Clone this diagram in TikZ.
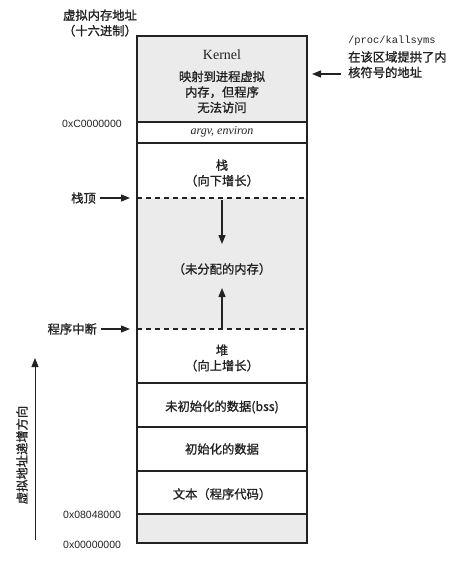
\documentclass[tikz,border=0pt]{standalone}
\usepackage{fontspec}
\setmainfont{Liberation Serif}
\newfontfamily\cjk{Noto Sans CJK SC}[FakeBold=1.2]
\newfontfamily\hexf{Liberation Sans}
\newfontfamily\monof{Liberation Mono}
\usetikzlibrary{arrows.meta}
\definecolor{memgray}{HTML}{EBEBEB}
\definecolor{ink}{HTML}{222222}
\begin{document}
\begin{tikzpicture}[x=1pt,y=-1pt,
  txt/.style={font=\cjk\fontsize{12.3}{15.5}\selectfont, text=ink, align=center, inner sep=0pt},
  hex/.style={font=\hexf\fontsize{10.5}{12}\selectfont, text=ink, inner sep=0pt},
  seg/.style={draw=ink, line width=1.3pt},
  arr/.style={-{Triangle[length=9pt,width=7pt]}, draw=ink, line width=1.3pt}]
\useasboundingbox (0,0) rectangle (455,562);
% shaded regions
\fill[memgray] (137,36) rectangle (307,122);
\fill[memgray] (137,198) rectangle (307,329);
\fill[memgray] (137,514) rectangle (307,543);
% outline and separators
\draw[seg] (137,36) rectangle (307,543);
\draw[seg] (137,122) -- (307,122);
\draw[seg] (137,143) -- (307,143);
\draw[seg,dash pattern=on 5pt off 4pt] (137,198) -- (307,198);
\draw[seg,dash pattern=on 5pt off 4pt] (137,329) -- (307,329);
\draw[seg] (137,383) -- (307,383);
\draw[seg] (137,427) -- (307,427);
\draw[seg] (137,471) -- (307,471);
\draw[seg] (137,514) -- (307,514);
% labels inside
\node[font=\fontsize{14}{16}\selectfont, text=ink] (kern) at (222,55) {Kernel};
\node[txt] (kmap) at (222,92) {映射到进程虚拟\\内存，但程序\\无法访问};
\node[font=\itshape\fontsize{12}{14}\selectfont, text=ink] (argv) at (222,132) {argv, environ};
\node[txt] (stack) at (222,173) {栈\\（向下增长）};
\node[txt] (unalloc) at (222,269) {（未分配的内存）};
\node[txt] (heap) at (222,358) {堆\\（向上增长）};
\node[txt] (bss) at (222,407) {未初始化的数据(bss)};
\node[txt] (data) at (222,449) {初始化的数据};
\node[txt] (text) at (222,494) {文本（程序代码）};
\coordinate (sd0) at (222,200);
\coordinate (sd1) at (222,244);
\coordinate (hu0) at (222,328);
\coordinate (hu1) at (222,288);
\draw[arr] (sd0) -- (sd1);
\draw[arr] (hu0) -- (hu1);
% left labels
\node[txt] (vaddr) at (100,23) {虚拟内存地址\\（十六进制）};
\node[hex, anchor=west] (hc) at (62,124) {0xC0000000};
\node[hex, anchor=west] (h8) at (63,515) {0x08048000};
\node[hex, anchor=west] (h0) at (63,545) {0x00000000};
\node[txt, anchor=east] (stop) at (96,198) {栈顶};
\node[txt, anchor=east] (brk) at (97,329) {程序中断};
\coordinate (stopE) at (130,198);
\coordinate (brkE) at (130,329);
\draw[arr] (stop.east) ++(4,0) -- (stopE);
\draw[arr] (brk.east) ++(4,0) -- (brkE);
% right label
\node[font=\monof\fontsize{10.4}{12}\selectfont, text=ink, anchor=west, inner sep=0pt] (proc) at (348,41) {/proc/kallsyms};
\node[txt, anchor=north west, align=left] (procd) at (348,51) {在该区域提拱了内\\核符号的地址};
\coordinate (procA) at (312,74);
\coordinate (procB) at (341,74);
\draw[arr] (procB) -- (procA);
% direction arrow
\coordinate (dir0) at (35,540);
\coordinate (dir1) at (35,358);
\draw[arr, line width=0.9pt] (dir0) -- (dir1);
\node[txt, rotate=90] (dirl) at (22,455) {虚拟地址递增方向};
\end{tikzpicture}
\end{document}
